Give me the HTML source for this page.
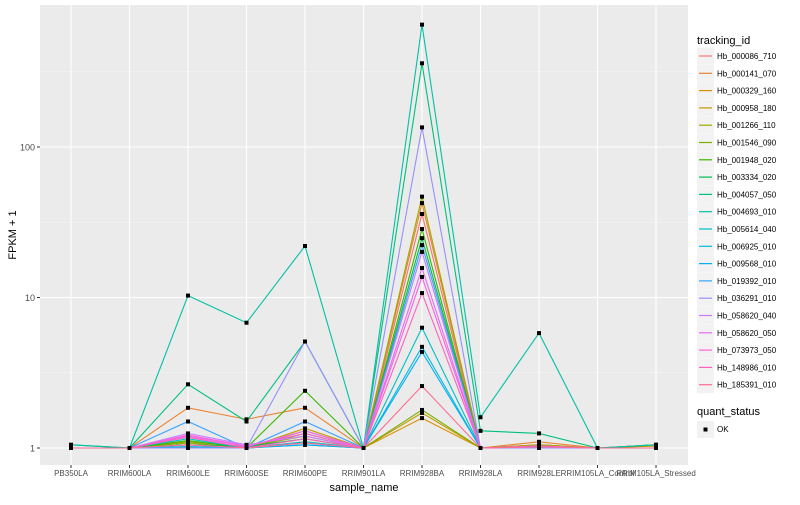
<!DOCTYPE html>
<html><head><meta charset="utf-8"><style>
body{margin:0;background:#fff;font-family:"Liberation Sans",sans-serif;}
svg text{font-family:"Liberation Sans",sans-serif;}
</style></head><body>
<svg id="c" width="800" height="500" xmlns="http://www.w3.org/2000/svg"></svg>
<script>
const categories=["PB350LA","RRIM600LA","RRIM600LE","RRIM600SE","RRIM600PE","RRIM901LA","RRIM928BA","RRIM928LA","RRIM928LE","RRIM105LA_Control","RRIM105LA_Stressed"];
const seriesNames=["Hb_000086_710","Hb_000141_070","Hb_000329_160","Hb_000958_180","Hb_001266_110","Hb_001546_090","Hb_001948_020","Hb_003334_020","Hb_004057_050","Hb_004693_010","Hb_005614_040","Hb_006925_010","Hb_009568_010","Hb_019392_010","Hb_036291_010","Hb_058620_040","Hb_058620_050","Hb_073973_050","Hb_148986_010","Hb_185391_010"];
const seriesColors=["#F8766D","#EA8331","#D89000","#C09B00","#A3A500","#7CAE00","#39B600","#00BB4E","#00BF7D","#00C1A3","#00BFC4","#00BAE0","#00B0F6","#35A2FF","#9590FF","#C77CFF","#E76BF3","#FA62DB","#FF62BC","#FF6C91"];
const seriesValues=[
[1,1,1.05,1,1.1,1,35.9,1,1.05,1,1],
[1,1,1.85,1.55,1.85,1,42.4,1,1.1,1,1.05],
[1,1,1.02,1,1.3,1,1.58,1,1.02,1,1],
[1,1,1.05,1,1.35,1,1.71,1,1.05,1,1.03],
[1,1,1.1,1.02,1.2,1,46.8,1,1.05,1,1],
[1,1,1.08,1,1.25,1,1.79,1,1.03,1,1],
[1,1,1.12,1,2.4,1,28.5,1,1.02,1,1],
[1,1,1.05,1.02,1.15,1,24.8,1,1.02,1,1],
[1.05,1,2.65,1.5,5.1,1,360,1.3,1.25,1,1.05],
[1.05,1,10.3,6.8,22,1,650,1.6,5.8,1,1.05],
[1,1,1.15,1,1.1,1,6.3,1,1,1,1],
[1,1,1.05,1,1.05,1,4.7,1,1,1,1],
[1,1,1.02,1,1.05,1,4.35,1,1,1,1],
[1,1,1.5,1,1.5,1,22.3,1,1.02,1,1],
[1,1,1,1,5.1,1,135,1,1,1,1],
[1,1,1.25,1.05,1.2,1,20.1,1,1.03,1,1],
[1,1,1.2,1.02,1.3,1,15.7,1,1.02,1,1],
[1,1,1.22,1.03,1.25,1,13.7,1,1.03,1,1],
[1,1,1.18,1,1.15,1,10.7,1,1.02,1,1],
[1,1,1.05,1,1.08,1,2.58,1,1.02,1,1]
];
const yTicks=[1,10,100];
const yTickLabels=["1","10","100"];
const NS="http://www.w3.org/2000/svg";
const svg=document.getElementById('c');
const L=40,R=688,T=5,B=465;
function x(i){return 71+i*58.5;}
function y(v){return 448-Math.log10(v)*150.5;}
function el(t,a,p){const e=document.createElementNS(NS,t);for(const k in a)e.setAttribute(k,a[k]);(p||svg).appendChild(e);return e;}
const panel=el('rect',{x:L,y:T,width:R-L,height:B-T,fill:'#EBEBEB'});


// minor grid
[0.5,1.5,2.5].forEach(m=>{const yy=448-m*150.5;if(yy>T)el('line',{x1:L,x2:R,y1:yy,y2:yy,stroke:'#F5F5F5','stroke-width':0.6});});
yTicks.forEach((v,i)=>{
  const g=el('line',{x1:L,x2:R,y1:y(v),y2:y(v),stroke:'#fff','stroke-width':1.1});
  
  
  el('line',{x1:L-3,x2:L,y1:y(v),y2:y(v),stroke:'#333','stroke-width':1});
  const t=el('text',{x:L-5,y:y(v)+3.5,'text-anchor':'end','font-size':9,fill:'#4D4D4D'});
  t.textContent=yTickLabels[i];
  
  
});
categories.forEach((c,i)=>{
  el('line',{x1:x(i),x2:x(i),y1:T,y2:B,stroke:'#fff','stroke-width':1.1});
  el('line',{x1:x(i),x2:x(i),y1:B,y2:B+3,stroke:'#333','stroke-width':1});
  const t=el('text',{x:x(i),y:B+11,'text-anchor':'middle','font-size':8,fill:'#4D4D4D'});
  t.textContent=c;
  
  
});
seriesValues.forEach((vals,s)=>{
  const p=el('polyline',{points:vals.map((v,i)=>x(i)+','+y(v)).join(' '),fill:'none',stroke:seriesColors[s],'stroke-width':1.1});
  
  
});
seriesValues.forEach((vals,s)=>{vals.forEach((v,i)=>{
  const d=el('rect',{x:x(i)-2,y:y(v)-2,width:4,height:4,fill:'#000'});
  
  
});});
let t=el('text',{x:(L+R)/2,y:491,'text-anchor':'middle','font-size':11,fill:'#000'});t.textContent='sample_name';


t=el('text',{x:0,y:0,'text-anchor':'middle','font-size':11,fill:'#000',transform:'translate(16,235) rotate(-90)'});t.textContent='FPKM + 1';


t=el('text',{x:697,y:44,'font-size':11,fill:'#000'});t.textContent='tracking_id';


seriesNames.forEach((n,i)=>{
  const yy=56+i*17.3;
  el('rect',{x:697,y:yy-8.5,width:17,height:17,fill:'#F2F2F2'});
  el('line',{x1:699,x2:712,y1:yy,y2:yy,stroke:seriesColors[i],'stroke-width':1.2});
  const lt=el('text',{x:717,y:yy+3,'font-size':8,fill:'#000'});lt.textContent=n;
  
  
});
t=el('text',{x:697,y:415,'font-size':11,fill:'#000'});t.textContent='quant_status';


el('rect',{x:697,y:421,width:17,height:17,fill:'#F2F2F2'});
el('rect',{x:703.5,y:427.5,width:4,height:4,fill:'#000'});
t=el('text',{x:717,y:432,'font-size':8,fill:'#000'});t.textContent='OK';


</script>
</body></html>
